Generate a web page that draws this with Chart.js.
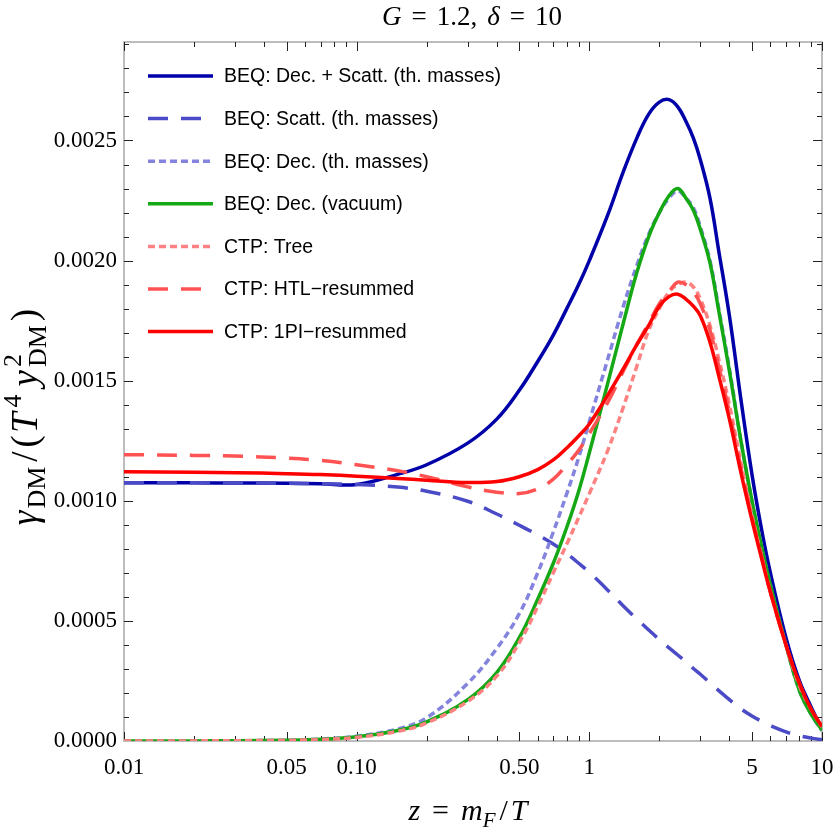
<!DOCTYPE html>
<html>
<head>
<meta charset="utf-8">
<script src="https://cdn.jsdelivr.net/npm/chart.js@4.4.0/dist/chart.umd.min.js"></script>
<style>
  html, body { margin: 0; padding: 0; background: #fff; }
  #wrap { width: 834px; height: 834px; }
</style>
</head>
<body>
<div id="wrap"><canvas id="rateChart" width="834" height="834"></canvas></div>
<script>
// z = m_F / T sample points
const zValues = [0.01, 0.02, 0.03, 0.05, 0.07, 0.1, 0.15, 0.2, 0.3, 0.4, 0.5, 0.6, 0.7, 0.8, 0.9, 1.0,
  1.2, 1.4, 1.6, 1.8, 2.0, 2.2, 2.4, 2.6, 2.8, 3.0, 3.3, 3.6, 4.0, 4.5, 5.0, 5.5, 6.0, 7.0, 8.0, 9.0, 10];

// BEQ: Dec. + Scatt. (th. masses)
const beqDecScatt = [0.001075, 0.001075, 0.001074, 0.001073, 0.001071, 0.001068, 0.00111, 0.00115, 0.00124, 0.00134,
  0.00146, 0.00158, 0.00169, 0.00180, 0.00190, 0.00200, 0.00219, 0.00237, 0.00251, 0.00261, 0.00266, 0.00267, 0.00264,
  0.00258, 0.00251, 0.00242, 0.00226, 0.00204, 0.00177, 0.00141, 0.00111, 0.00088, 0.00070, 0.00043, 0.00025, 0.00014, 0.00005];
// BEQ: Scatt. (th. masses)
const beqScatt = [0.001075, 0.001075, 0.001074, 0.001073, 0.001071, 0.001068, 0.001057, 0.001040, 0.000998, 0.000945,
  0.000898, 0.000858, 0.000820, 0.000780, 0.000740, 0.000702, 0.000628, 0.000562, 0.000508, 0.000462, 0.000422, 0.000388,
  0.000358, 0.000330, 0.000302, 0.000278, 0.000242, 0.000210, 0.000172, 0.000133, 0.000104, 0.000082, 0.000064, 0.000038,
  0.000022, 0.000012, 0.000005];
// BEQ: Dec. (th. masses)
const beqDecTh = [0.0000003, 0.0000006, 0.000001, 0.000003, 0.000008, 0.00002, 0.00005, 0.000097, 0.00024, 0.000385,
  0.00053, 0.00070, 0.00087, 0.00103, 0.00118, 0.00133, 0.00159, 0.00181, 0.00198, 0.00211, 0.00220, 0.00226,
  0.00229, 0.00226, 0.00222, 0.00214, 0.00200, 0.00180, 0.00155, 0.00124, 0.00100, 0.00081, 0.00065, 0.00040,
  0.00021, 0.00011, 0.000043];
// BEQ: Dec. (vacuum)
const beqDecVac = [0.0000002, 0.0000005, 0.000001, 0.000003, 0.000007, 0.000018, 0.000044, 0.00008, 0.000172, 0.000285,
  0.00043, 0.00059, 0.00074, 0.00089, 0.00104, 0.00120, 0.00149, 0.00174, 0.00195, 0.00210, 0.00220, 0.00227,
  0.00230, 0.00226, 0.00221, 0.00213, 0.00199, 0.00179, 0.00154, 0.00124, 0.00100, 0.00081, 0.00065, 0.00040,
  0.00021, 0.00011, 0.000045];
// CTP: Tree
const ctpTree = [0.0000002, 0.0000005, 0.000001, 0.000003, 0.000006, 0.000015, 0.00004, 0.000075, 0.000165, 0.00027,
  0.00041, 0.00056, 0.00070, 0.00082, 0.00093, 0.00103, 0.00121, 0.00139, 0.00156, 0.00171, 0.00180, 0.00187,
  0.00190, 0.00191, 0.00189, 0.00184, 0.00173, 0.00159, 0.00140, 0.00115, 0.00094, 0.00077, 0.00062, 0.00040,
  0.00023, 0.00013, 0.000058];
// CTP: HTL-resummed
const ctpHtl = [0.001192, 0.001189, 0.001186, 0.001178, 0.001168, 0.001150, 0.001125, 0.001100, 0.001058, 0.001036,
  0.001030, 0.00105, 0.00109, 0.00115, 0.00121, 0.00128, 0.00141, 0.00154, 0.00165, 0.00174, 0.00182, 0.00187,
  0.00191, 0.00190, 0.00187, 0.00182, 0.00171, 0.00156, 0.00137, 0.00113, 0.00093, 0.00077, 0.00062, 0.00040,
  0.00024, 0.00013, 0.00006];
// CTP: 1PI-resummed
const ctp1PI = [0.001121, 0.001119, 0.001117, 0.001113, 0.001109, 0.001102, 0.001093, 0.001086, 0.001076, 0.00108,
  0.0011, 0.00113, 0.00117, 0.00122, 0.00127, 0.00132, 0.00144, 0.00155, 0.00165, 0.00173, 0.00181, 0.00185,
  0.00186, 0.00184, 0.00181, 0.00177, 0.00166, 0.00152, 0.00134, 0.00111, 0.00092, 0.00076, 0.00062, 0.00040,
  0.00024, 0.00013, 0.00006];

const xTickValues = [0.01, 0.05, 0.1, 0.5, 1, 5, 10];
const xTickLabels = ['0.01', '0.05', '0.10', '0.50', '1', '5', '10'];
const xMinorTicks = [0.02, 0.03, 0.04, 0.06, 0.07, 0.08, 0.09, 0.2, 0.3, 0.4, 0.6, 0.7, 0.8, 0.9, 2, 3, 4, 6, 7, 8, 9];
const yTickValues = [0, 0.0005, 0.001, 0.0015, 0.002, 0.0025];

const serif = '"Liberation Serif", "DejaVu Serif", serif';
const sans = '"Liberation Sans", Arial, sans-serif';

const series = [
  { label: 'BEQ: Dec. + Scatt. (th. masses)', data: beqDecScatt, color: '#0000a8', dash: [] },
  { label: 'BEQ: Scatt. (th. masses)', data: beqScatt, color: '#4b4bc8', dash: [20, 13] },
  { label: 'BEQ: Dec. (th. masses)', data: beqDecTh, color: '#8484de', dash: [7, 4] },
  { label: 'BEQ: Dec. (vacuum)', data: beqDecVac, color: '#14a814', dash: [] },
  { label: 'CTP: Tree', data: ctpTree, color: '#ff8282', dash: [7, 4] },
  { label: 'CTP: HTL\u2212resummed', data: ctpHtl, color: '#ff5252', dash: [20, 13] },
  { label: 'CTP: 1PI\u2212resummed', data: ctp1PI, color: '#ff0000', dash: [] }
];

// draws a run of text pieces centred on x
function richText(ctx, parts, x, y) {
  let w = 0;
  parts.forEach(p => {
    ctx.font = p.f;
    if (p.adv !== false) w += ctx.measureText(p.t).width + (p.gap || 0);
  });
  let cx = x - w / 2;
  parts.forEach(p => {
    ctx.font = p.f;
    ctx.fillText(p.t, cx, y + (p.dy || 0));
    if (p.adv !== false) cx += ctx.measureText(p.t).width + (p.gap || 0);
  });
}

const frameAndTicks = {
  id: 'frameAndTicks',
  beforeDatasetsDraw(chart) {
    const { ctx, chartArea: a, scales } = chart;
    ctx.save();
    ctx.strokeStyle = '#a8a8a8';
    ctx.lineWidth = 1.5;
    ctx.strokeRect(a.left, a.top, a.right - a.left, a.bottom - a.top);
    ctx.strokeStyle = '#222';
    ctx.lineWidth = 1;
    ctx.beginPath();
    const xTick = (v, len) => {
      const px = Math.round(scales.x.getPixelForValue(v)) + 0.5;
      ctx.moveTo(px, a.bottom); ctx.lineTo(px, a.bottom - len);
      ctx.moveTo(px, a.top); ctx.lineTo(px, a.top + len);
    };
    const yTick = (v, len) => {
      const py = Math.round(scales.y.getPixelForValue(v)) + 0.5;
      ctx.moveTo(a.left, py); ctx.lineTo(a.left + len, py);
      ctx.moveTo(a.right, py); ctx.lineTo(a.right - len, py);
    };
    xTickValues.forEach(v => xTick(v, 9));
    xMinorTicks.forEach(v => xTick(v, 5));
    for (let k = 1; k <= 29; k++) yTick(k / 10000, k % 5 === 0 ? 9 : 5);
    ctx.stroke();
    ctx.restore();
  }
};

const labelsAndLegend = {
  id: 'labelsAndLegend',
  afterDraw(chart) {
    const { ctx } = chart;
    ctx.save();
    ctx.fillStyle = '#000';
    ctx.textBaseline = 'alphabetic';

    // title
    richText(ctx, [
      { t: 'G', f: `italic 27px ${serif}`, gap: 10 },
      { t: '=', f: `27px ${serif}`, gap: 10 },
      { t: '1.2,', f: `27px ${serif}`, gap: 10 },
      { t: '\u03b4', f: `italic 27px ${serif}`, gap: 10 },
      { t: '=', f: `27px ${serif}`, gap: 10 },
      { t: '10', f: `27px ${serif}` }
    ], 472, 25);

    // x axis title
    richText(ctx, [
      { t: 'z', f: `italic 30px ${serif}`, gap: 12 },
      { t: '=', f: `30px ${serif}`, gap: 12 },
      { t: 'm', f: `italic 30px ${serif}` },
      { t: 'F', f: `italic 21px ${serif}`, dy: 7, gap: 4 },
      { t: '/', f: `30px ${serif}`, gap: 3 },
      { t: 'T', f: `italic 30px ${serif}` }
    ], 468, 820);

    // y axis title
    ctx.save();
    ctx.translate(37, 417);
    ctx.rotate(-Math.PI / 2);
    richText(ctx, [
      { t: '\u03b3', f: `italic 37px ${serif}`, gap: 2 },
      { t: 'DM', f: `26px ${serif}`, dy: 8, gap: 5 },
      { t: '/', f: `37px ${serif}`, gap: 4 },
      { t: '(', f: `37px ${serif}`, gap: 2 },
      { t: 'T', f: `italic 37px ${serif}`, gap: 5 },
      { t: '4', f: `26px ${serif}`, dy: -16, gap: 8 },
      { t: 'y', f: `italic 37px ${serif}`, gap: 3 },
      { t: '2', f: `26px ${serif}`, dy: -16, adv: false },
      { t: 'DM', f: `26px ${serif}`, dy: 9, gap: 4 },
      { t: ')', f: `37px ${serif}` }
    ], 0, 0);
    ctx.restore();

    // legend inside the plot
    const x0 = 148, x1 = 213, top = 76, step = 42.6;
    chart.data.datasets.forEach((ds, i) => {
      const y = top + i * step;
      ctx.beginPath();
      ctx.strokeStyle = ds.borderColor;
      ctx.lineWidth = ds.borderWidth;
      ctx.setLineDash(ds.borderDash);
      ctx.moveTo(x0, y);
      ctx.lineTo(x1, y);
      ctx.stroke();
      ctx.setLineDash([]);
      ctx.font = `19.5px ${sans}`;
      ctx.textBaseline = 'middle';
      ctx.fillStyle = '#000';
      ctx.fillText(ds.label, 224, y + 1);
    });
    ctx.restore();
  }
};

const ctx = document.getElementById('rateChart').getContext('2d');
const rateChart = new Chart(ctx, {
  type: 'line',
  data: {
    datasets: series.map((s, i) => ({
      label: s.label,
      data: zValues.map((z, k) => ({ x: z, y: s.data[k] })),
      borderColor: s.color,
      borderDash: s.dash,
      borderWidth: 3.5,
      borderCapStyle: 'butt',
      pointRadius: 0,
      fill: false,
      tension: 0.4,
      order: series.length - i
    }))
  },
  options: {
    responsive: false,
    animation: false,
    devicePixelRatio: 1,
    layout: { padding: { top: 42, right: 12, left: 0, bottom: 0 } },
    plugins: { legend: { display: false }, tooltip: { enabled: false }, title: { display: false } },
    scales: {
      x: {
        type: 'logarithmic',
        min: 0.01,
        max: 10,
        grid: { display: false, drawTicks: false },
        border: { display: false },
        afterBuildTicks: scale => { scale.ticks = xTickValues.map(v => ({ value: v })); },
        afterFit: scale => {
          scale.height = 93;
          scale.paddingLeft = 0;
          scale.paddingRight = 0;
        },
        ticks: {
          autoSkip: false,
          maxRotation: 0,
          padding: 13,
          color: '#000',
          font: { family: serif, size: 23 },
          callback: (v, i) => xTickLabels[i]
        }
      },
      y: {
        type: 'linear',
        min: 0,
        max: 0.00291,
        grid: { display: false, drawTicks: false },
        border: { display: false },
        afterBuildTicks: scale => { scale.ticks = yTickValues.map(v => ({ value: v })); },
        afterFit: scale => { scale.width = 124; },
        ticks: {
          padding: 7,
          color: '#000',
          font: { family: serif, size: 23 },
          callback: v => v.toFixed(4)
        }
      }
    }
  },
  plugins: [frameAndTicks, labelsAndLegend]
});
</script>
</body>
</html>
